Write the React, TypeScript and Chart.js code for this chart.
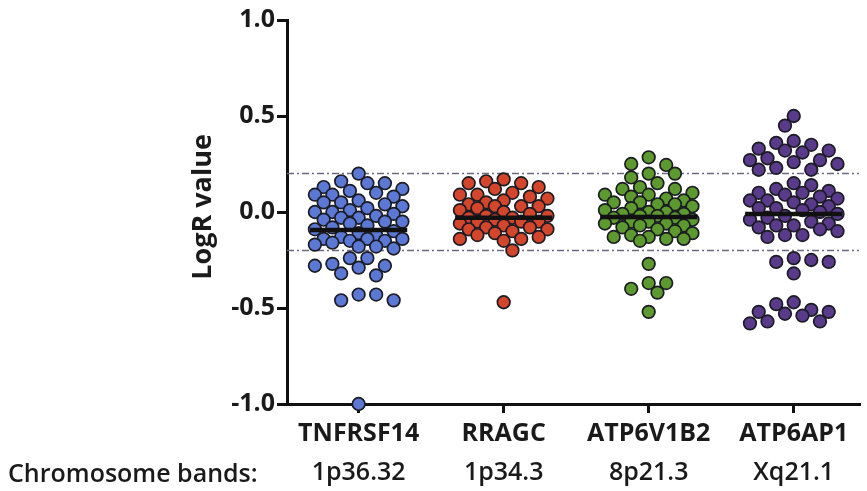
import React, { useEffect, useRef } from "react";
import { Chart, registerables } from "chart.js";

Chart.register(...registerables);

// ---- data ----
const genes = ["TNFRSF14", "RRAGC", "ATP6V1B2", "ATP6AP1"];
const bands = ["1p36.32", "1p34.3", "8p21.3", "Xq21.1"];
const yTicks = [-1.0, -0.5, 0.0, 0.5, 1.0];
const thresholds = [0.2, -0.2];
const medians = [-0.094, -0.03, -0.026, -0.01];

const tnfrsf14 = [
  0.2, 0.16, 0.15, 0.15, 0.13, 0.12, 0.11, 0.1, 0.09, 0.09, 0.08, 0.06, 0.05, 0.05, 0.04,
  0.03, 0.02, 0.01, 0.0, 0.0, -0.01, -0.02, -0.03, -0.03, -0.04, -0.05, -0.05, -0.06,
  -0.07, -0.08, -0.09, -0.1, -0.11, -0.12, -0.13, -0.14, -0.14, -0.14, -0.15, -0.15,
  -0.16, -0.17, -0.18, -0.18, -0.19, -0.24, -0.24, -0.27, -0.28, -0.28, -0.29, -0.32,
  -0.33, -0.43, -0.46, -0.46, -0.43, -1.0,
];
const rragc = [
  0.17, 0.16, 0.15, 0.15, 0.13, 0.12, 0.1, 0.09, 0.09, 0.08, 0.07, 0.06, 0.05, 0.04, 0.03,
  0.03, 0.03, 0.02, 0.01, 0.0, -0.01, -0.02, -0.02, -0.03, -0.03, -0.04, -0.05, -0.05,
  -0.05, -0.06, -0.07, -0.08, -0.08, -0.09, -0.09, -0.1, -0.11, -0.12, -0.13, -0.14,
  -0.14, -0.15, -0.2, -0.47,
];
const atp6v1b2 = [
  0.285, 0.25, 0.245, 0.2, 0.2, 0.18, 0.15, 0.13, 0.12, 0.12, 0.1, 0.09, 0.09, 0.08, 0.07,
  0.06, 0.05, 0.05, 0.04, 0.04, 0.03, 0.02, 0.01, 0.0, 0.0, -0.01, -0.01, -0.02, -0.02,
  -0.03, -0.03, -0.04, -0.05, -0.05, -0.06, -0.06, -0.07, -0.07, -0.08, -0.09, -0.1,
  -0.11, -0.12, -0.13, -0.13, -0.14, -0.14, -0.15, -0.27, -0.37, -0.37, -0.4, -0.42, -0.52,
];
const atp6ap1 = [
  0.5, 0.45, 0.37, 0.36, 0.35, 0.33, 0.32, 0.32, 0.31, 0.28, 0.27, 0.27, 0.26, 0.25, 0.23,
  0.22, 0.22, 0.15, 0.14, 0.12, 0.11, 0.1, 0.1, 0.09, 0.08, 0.07, 0.06, 0.06, 0.05, 0.04,
  0.03, 0.02, 0.02, 0.01, 0.0, -0.01, -0.02, -0.03, -0.04, -0.05, -0.06, -0.07, -0.07,
  -0.08, -0.09, -0.1, -0.12, -0.12, -0.13, -0.24, -0.25, -0.26, -0.26, -0.32, -0.47,
  -0.48, -0.51, -0.52, -0.52, -0.53, -0.54, -0.57, -0.58, -0.57,
];
const groupValues = [tnfrsf14, rragc, atp6v1b2, atp6ap1];

// ---- style ----
const fills = ["#5b78d4", "#d4462c", "#5c992e", "#5a3a8a"];
const FONT = "'Open Sans', 'DejaVu Sans', sans-serif";
const TEXT = "#1a1a1a";
const X_MIN = 0.506;
const X_MAX = 4.45;
const MEDIAN_HALF = 0.335;
const STEP = 8.75;
const MAX_K = 5;
const MIN_DIST = 12;

function placeSwarm(chart: any) {
  const xs = chart.scales.x;
  const ys = chart.scales.y;
  const ks: number[] = [0];
  for (let k = 1; k <= MAX_K; k++) ks.push(k, -k);
  chart.data.datasets.forEach((ds: any) => {
    if (ds.groupIdx === undefined) return;
    const vals: number[] = groupValues[ds.groupIdx];
    const cx = xs.getPixelForValue(ds.groupIdx + 1);
    const placed: { x: number; y: number }[] = [];
    const order = vals.map((_, i) => i).sort((a, b) => vals[b] - vals[a]);
    const out: any[] = new Array(vals.length);
    let flip = 1;
    for (const i of order) {
      const py = ys.getPixelForValue(vals[i]);
      let best = cx;
      let bestScore = -Infinity;
      for (const k0 of ks) {
        const px = cx + k0 * flip * STEP;
        let minD = Infinity;
        for (const p of placed) {
          const d = Math.hypot(p.x - px, p.y - py);
          if (d < minD) minD = d;
        }
        if (minD >= MIN_DIST) {
          best = px;
          bestScore = Infinity;
          break;
        }
        if (minD > bestScore) {
          bestScore = minD;
          best = px;
        }
      }
      flip = -flip;
      placed.push({ x: best, y: py });
      out[i] = { x: xs.getValueForPixel(best), y: vals[i] };
    }
    ds.data = out;
  });
  chart.update("none");
}

const textPlugin = {
  id: "extraText",
  afterDraw(chart: any) {
    const ctx = chart.ctx;
    ctx.save();
    ctx.fillStyle = TEXT;
    ctx.font = `bold 27px ${FONT}`;
    ctx.textAlign = "center";
    ctx.textBaseline = "alphabetic";
    ctx.translate(211, 207);
    ctx.rotate(-Math.PI / 2);
    ctx.fillText("LogR value", 0, 0);
    ctx.restore();
    ctx.save();
    ctx.fillStyle = TEXT;
    ctx.font = `600 25px ${FONT}`;
    ctx.textAlign = "left";
    ctx.textBaseline = "alphabetic";
    ctx.fillText("Chromosome bands:", 8, 482);
    ctx.restore();
  },
};

export default function App() {
  const ref = useRef<HTMLCanvasElement | null>(null);
  useEffect(() => {
    document.body.style.margin = "0";
    if (!ref.current) return;
    const datasets: any[] = [];
    groupValues.forEach((vals, gi) => {
      datasets.push({
        type: "scatter",
        groupIdx: gi,
        data: vals.map((v) => ({ x: gi + 1, y: v })),
        backgroundColor: fills[gi],
        borderColor: "#1c1c24",
        borderWidth: 1.7,
        pointRadius: 6.3,
        pointHoverRadius: 6.3,
        clip: false,
        order: 1,
      });
    });
    medians.forEach((m, gi) => {
      datasets.push({
        type: "line",
        data: [
          { x: gi + 1 - MEDIAN_HALF, y: m },
          { x: gi + 1 + MEDIAN_HALF, y: m },
        ],
        borderColor: "#111111",
        borderWidth: 4.5,
        pointRadius: 0,
        showLine: true,
        order: 0,
      });
    });
    thresholds.forEach((t) => {
      datasets.push({
        type: "line",
        data: [
          { x: X_MIN, y: t },
          { x: X_MAX, y: t },
        ],
        borderColor: "#6a6a80",
        borderWidth: 1.5,
        borderDash: [7, 3, 2, 3],
        pointRadius: 0,
        showLine: true,
        order: 2,
      });
    });

    const chart = new Chart(ref.current, {
      type: "scatter",
      data: { datasets },
      plugins: [textPlugin],
      options: {
        animation: false,
        responsive: false,
        layout: { padding: { top: 20, right: 5, left: 0, bottom: 0 } },
        plugins: { legend: { display: false }, tooltip: { enabled: false } },
        scales: {
          x: {
            type: "linear",
            position: "bottom",
            min: X_MIN,
            max: X_MAX,
            afterBuildTicks: (s: any) => {
              s.ticks = genes.map((_, i) => ({ value: i + 1 }));
            },
            afterFit: (s: any) => {
              s.height = 48;
            },
            ticks: {
              callback: (v: any) => genes[Math.round(Number(v)) - 1] ?? "",
              font: { family: FONT, size: 25, weight: "bold" },
              color: TEXT,
              padding: 6,
              maxRotation: 0,
              autoSkip: false,
            },
            grid: {
              display: true,
              drawOnChartArea: false,
              drawTicks: true,
              tickLength: 9,
              lineWidth: 3,
              color: "#111111",
            },
            border: { display: true, width: 3, color: "#111111" },
          },
          x2: {
            type: "linear",
            position: "bottom",
            min: X_MIN,
            max: X_MAX,
            afterBuildTicks: (s: any) => {
              s.ticks = bands.map((_, i) => ({ value: i + 1 }));
            },
            afterFit: (s: any) => {
              s.height = 39;
            },
            ticks: {
              callback: (v: any) => bands[Math.round(Number(v)) - 1] ?? "",
              font: { family: FONT, size: 25, weight: "600" },
              color: TEXT,
              padding: 6,
              maxRotation: 0,
              autoSkip: false,
            },
            grid: { display: false, drawTicks: false },
            border: { display: false },
          },
          y: {
            type: "linear",
            min: -1,
            max: 1,
            afterBuildTicks: (s: any) => {
              s.ticks = yTicks.map((v) => ({ value: v }));
            },
            afterFit: (s: any) => {
              s.width = 287;
            },
            ticks: {
              callback: (v: any) => Number(v).toFixed(1),
              font: { family: FONT, size: 25, weight: "bold" },
              color: TEXT,
              padding: 2,
            },
            grid: {
              display: true,
              drawOnChartArea: false,
              drawTicks: true,
              tickLength: 10,
              lineWidth: 3,
              color: "#111111",
            },
            border: { display: true, width: 3, color: "#111111" },
          },
        },
      } as any,
    });
    placeSwarm(chart);
    return () => chart.destroy();
  }, []);
  return (
    <div style={{ width: 867, height: 491, background: "#ffffff" }}>
      <canvas ref={ref} width={867} height={491} />
    </div>
  );
}
